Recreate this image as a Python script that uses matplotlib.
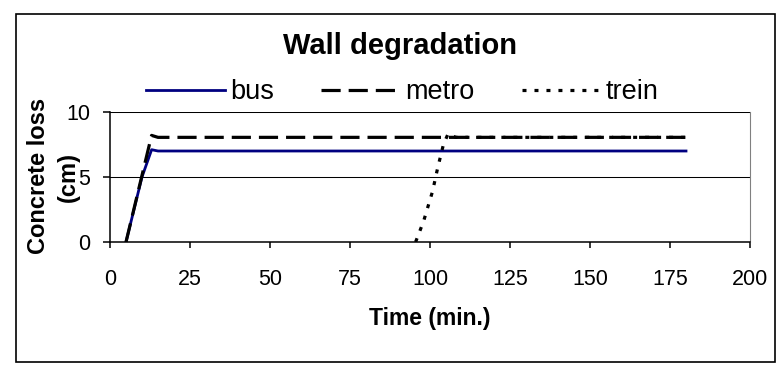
import matplotlib
matplotlib.use("Agg")
import matplotlib.pyplot as plt
from matplotlib.patches import Rectangle

plt.rcParams["font.family"] = ["Liberation Sans", "DejaVu Sans"]

# concrete loss (cm) against time (min.) for each vehicle type
bus_time = [5, 10, 13, 15, 180]
bus_loss = [0, 5.0, 7.1, 7.0, 7.0]
metro_time = [5, 13, 15, 180]
metro_loss = [0, 8.2, 8.05, 8.05]
trein_time = [95.5, 98, 100.8, 102.4, 104.2, 105.7, 108, 180]
trein_loss = [0, 1.6, 3.9, 5.7, 7.5, 8.35, 8.05, 8.05]

x_ticks = [0, 25, 50, 75, 100, 125, 150, 175, 200]
y_ticks = [0, 5, 10]

W, H = 779, 367
fig = plt.figure(figsize=(W / 100, H / 100), dpi=100)


def fx(px):
    return px / W


def fy(px):
    return 1 - px / H


# chart area border
fig.patches.append(Rectangle((fx(16), fy(362)), (775 - 16) / W, (362 - 14) / H,
                             transform=fig.transFigure, fill=False,
                             edgecolor="black", linewidth=1.2))

ax = fig.add_axes([fx(110), fy(242), (750 - 110) / W, (242 - 112) / H])

l_bus, = ax.plot(bus_time, bus_loss, color="#000080", linewidth=2.0, label="bus")
l_metro, = ax.plot(metro_time, metro_loss, color="black", linewidth=2.3,
                   dashes=(6, 2.5), label="metro")
l_trein, = ax.plot(trein_time, trein_loss, color="black", linewidth=2.3,
                   dashes=(1.25, 2.5), label="trein")

ax.set_xlim(0, 200)
ax.set_ylim(0, 10)
ax.set_xticks(x_ticks)
ax.set_yticks(y_ticks)
ax.tick_params(direction="out", width=1.1, labelsize=15.5, color="black")
ax.tick_params(axis="x", length=4.3, pad=15)
ax.tick_params(axis="y", length=5, pad=9.4)
ax.yaxis.grid(True, color="black", linewidth=0.75)
ax.set_axisbelow(True)
for side in ("left", "bottom"):
    ax.spines[side].set_color("black")
    ax.spines[side].set_linewidth(1.1)
ax.spines["right"].set_color("#808080")
ax.spines["top"].set_visible(False)

# axis titles
fig.text(fx(430), fy(325), "Time (min.)", ha="center", va="baseline",
         fontsize=16.5, fontweight="bold")
fig.text(fx(45), fy(175.5), "Concrete loss", rotation=90, rotation_mode="anchor",
         ha="center", va="baseline", fontsize=17, fontweight="bold")
fig.text(fx(75), fy(176.5), "(cm)", rotation=90, rotation_mode="anchor",
         ha="center", va="baseline", fontsize=17, fontweight="bold")

fig.text(fx(400.5), fy(54.5), "Wall degradation", ha="center", va="baseline",
         fontsize=21, fontweight="bold")

fig.legend(handles=[l_bus, l_metro, l_trein], loc="center",
           bbox_to_anchor=(fx(402.5), fy(92)), ncol=3, frameon=False,
           fontsize=19.5, handlelength=2.93, handleheight=0.55,
           handletextpad=0.18, columnspacing=1.74, borderpad=0, borderaxespad=0)

fig.savefig("out.png", dpi=100)
